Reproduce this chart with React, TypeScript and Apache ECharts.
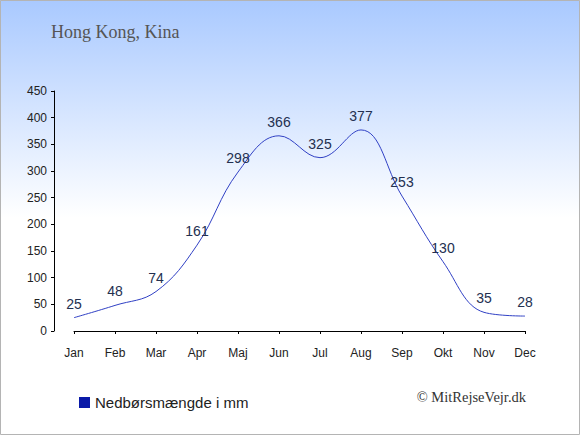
import React, { useEffect, useRef } from "react";
import * as echarts from "echarts";

const months = ["Jan", "Feb", "Mar", "Apr", "Maj", "Jun", "Jul", "Aug", "Sep", "Okt", "Nov", "Dec"];
const rainfall = [25, 48, 74, 161, 298, 366, 325, 377, 253, 130, 35, 28];
const yTicks = [0, 50, 100, 150, 200, 250, 300, 350, 400, 450];
const titleText = "Hong Kong, Kina";
const legendText = "Nedbørsmængde i mm";
const creditText = "© MitRejseVejr.dk";

export default function App() {
  const ref = useRef<HTMLDivElement>(null);
  useEffect(() => {
    if (!ref.current) return;
    const chart = echarts.init(ref.current, undefined, { renderer: "svg" });
    chart.setOption({
      animation: false,
      backgroundColor: new echarts.graphic.LinearGradient(0, 0, 0, 1, [
        { offset: 0, color: "#a9c9ff" },
        { offset: 0.5, color: "#ffffff" },
        { offset: 1, color: "#ffffff" },
      ]),
      title: {
        text: titleText,
        left: 46,
        top: 18,
        textStyle: {
          fontFamily: "'Liberation Serif', 'DejaVu Serif', serif",
          fontSize: 18,
          fontWeight: "normal",
          color: "#555555",
        },
      },
      legend: {
        left: 74,
        top: 390,
        itemWidth: 11,
        itemHeight: 11,
        itemGap: 5,
        icon: "rect",
        textStyle: {
          fontFamily: "'Liberation Sans', Arial, sans-serif",
          fontSize: 15,
          color: "#222222",
        },
        data: [{ name: legendText, itemStyle: { color: "#0a1aa8" } }],
      },
      graphic: [
        {
          type: "rect",
          shape: { x: 0.5, y: 0.5, width: 579, height: 434 },
          style: { fill: "none", stroke: "#b4b4b4", lineWidth: 1 },
          silent: true,
        },
        {
          type: "text",
          right: 54,
          top: 389,
          style: {
            text: creditText,
            font: "14.5px 'Liberation Serif', 'DejaVu Serif', serif",
            fill: "#333333",
          },
        },
      ],
      grid: { left: 74, right: 55, top: 91, bottom: 104 },
      xAxis: {
        type: "category",
        data: months,
        boundaryGap: false,
        offset: 9,
        axisLine: { lineStyle: { color: "#000000", width: 1 } },
        axisTick: { show: true, length: 3, lineStyle: { color: "#000" } },
        axisLabel: {
          margin: 7,
          fontFamily: "'Liberation Sans', Arial, sans-serif",
          fontSize: 12,
          color: "#222222",
        },
        splitLine: { show: false },
      },
      yAxis: {
        type: "value",
        min: yTicks[0],
        max: yTicks[yTicks.length - 1],
        interval: 50,
        offset: 20,
        axisLine: { show: true, lineStyle: { color: "#000000", width: 1 } },
        axisTick: { show: true, length: 3, lineStyle: { color: "#000" } },
        axisLabel: {
          margin: 7,
          fontFamily: "'Liberation Sans', Arial, sans-serif",
          fontSize: 12,
          color: "#222222",
        },
        splitLine: { show: false },
      },
      series: [
        {
          name: legendText,
          type: "line",
          data: rainfall,
          smooth: 0.4,
          symbol: "circle",
          symbolSize: 0,
          showSymbol: true,
          lineStyle: { color: "#3040c4", width: 1 },
          itemStyle: { color: "#0a1aa8" },
          label: {
            show: true,
            position: "top",
            distance: 7,
            fontFamily: "'Liberation Sans', Arial, sans-serif",
            fontSize: 14,
            color: "#233050",
          },
        },
      ],
    });
    return () => chart.dispose();
  }, []);
  return (
    <div
      ref={ref}
      style={{ position: "fixed", left: 0, top: 0, width: 580, height: 435 }}
    />
  );
}
